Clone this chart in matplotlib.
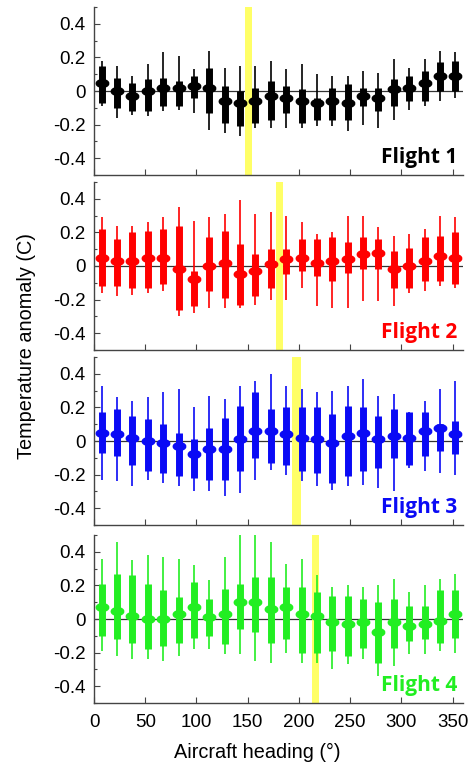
import numpy as np
import matplotlib.pyplot as plt
from matplotlib.ticker import MultipleLocator

plt.rcParams['font.family'] = ['Liberation Sans', 'DejaVu Sans']

# heading bins (15 degree bins)
heading = np.arange(7.5, 360, 15)

# per flight: whisker low, box low, median, box high, whisker high
f1_wl = [-0.09, -0.16, -0.14, -0.15, -0.12, -0.11, -0.13, -0.23, -0.25, -0.27, -0.22, -0.22,
         -0.22, -0.22, -0.21, -0.21, -0.24, -0.20, -0.22, -0.17, -0.11, -0.09, -0.06, -0.04]
f1_q1 = [-0.07, -0.10, -0.12, -0.12, -0.09, -0.09, -0.04, -0.13, -0.19, -0.21, -0.19, -0.17,
         -0.13, -0.19, -0.17, -0.17, -0.17, -0.09, -0.12, -0.09, -0.06, -0.06, 0.00, 0.00]
f1_md = [0.05, 0.00, -0.03, 0.00, 0.02, 0.02, 0.03, 0.02, -0.06, -0.07, -0.06, -0.03,
         -0.04, -0.06, -0.07, -0.06, -0.07, -0.03, -0.04, 0.01, 0.02, 0.05, 0.09, 0.09]
f1_q3 = [0.15, 0.08, 0.05, 0.07, 0.08, 0.06, 0.09, 0.14, 0.03, 0.00, 0.02, 0.06,
         0.03, 0.01, -0.04, 0.02, 0.04, 0.02, 0.02, 0.07, 0.09, 0.12, 0.17, 0.18]
f1_wh = [0.18, 0.15, 0.09, 0.16, 0.23, 0.21, 0.13, 0.24, 0.14, 0.15, 0.15, 0.18,
         0.13, 0.16, 0.10, 0.09, 0.09, 0.12, 0.11, 0.19, 0.14, 0.19, 0.24, 0.23]

f2_wl = [-0.16, -0.18, -0.17, -0.16, -0.15, -0.30, -0.28, -0.25, -0.25, -0.25, -0.23, -0.20,
         -0.20, -0.13, -0.24, -0.25, -0.25, -0.21, -0.21, -0.24, -0.16, -0.15, -0.12, -0.13]
f2_q1 = [-0.12, -0.12, -0.13, -0.13, -0.11, -0.26, -0.24, -0.15, -0.19, -0.23, -0.18, -0.13,
         -0.05, -0.03, -0.06, -0.09, -0.04, -0.02, -0.02, -0.13, -0.13, -0.09, -0.09, -0.11]
f2_md = [0.05, 0.03, 0.03, 0.05, 0.05, -0.02, -0.08, 0.00, 0.02, -0.05, -0.03, 0.01,
         0.04, 0.05, 0.02, 0.03, 0.04, 0.07, 0.08, -0.02, 0.00, 0.03, 0.06, 0.05]
f2_q3 = [0.22, 0.16, 0.20, 0.21, 0.22, 0.24, -0.03, 0.17, 0.21, 0.13, 0.07, 0.10,
         0.10, 0.16, 0.16, 0.17, 0.14, 0.17, 0.16, 0.09, 0.11, 0.17, 0.18, 0.20]
f2_wh = [0.29, 0.24, 0.24, 0.26, 0.29, 0.35, 0.27, 0.29, 0.31, 0.39, 0.31, 0.32,
         0.30, 0.26, 0.19, 0.20, 0.30, 0.30, 0.23, 0.18, 0.19, 0.22, 0.30, 0.29]

f3_wl = [-0.23, -0.24, -0.27, -0.23, -0.25, -0.27, -0.30, -0.30, -0.33, -0.31, -0.23, -0.17,
         -0.20, -0.24, -0.27, -0.29, -0.27, -0.26, -0.28, -0.30, -0.16, -0.18, -0.19, -0.20]
f3_q1 = [-0.07, -0.09, -0.14, -0.18, -0.19, -0.21, -0.22, -0.23, -0.23, -0.18, -0.10, -0.13,
         -0.14, -0.18, -0.19, -0.25, -0.21, -0.18, -0.16, -0.10, -0.14, -0.09, -0.06, -0.08]
f3_md = [0.05, 0.04, 0.02, 0.00, -0.01, -0.03, -0.08, -0.05, -0.05, 0.01, 0.06, 0.06,
         0.04, 0.02, 0.01, -0.01, 0.03, 0.05, 0.01, 0.03, 0.02, 0.06, 0.08, 0.04]
f3_q3 = [0.17, 0.19, 0.15, 0.13, 0.10, 0.05, 0.01, 0.08, 0.14, 0.21, 0.29, 0.19,
         0.20, 0.20, 0.20, 0.16, 0.21, 0.20, 0.15, 0.19, 0.17, 0.17, 0.10, 0.12]
f3_wh = [0.33, 0.26, 0.24, 0.26, 0.29, 0.31, 0.20, 0.27, 0.25, 0.33, 0.36, 0.40,
         0.33, 0.31, 0.29, 0.30, 0.33, 0.37, 0.27, 0.28, 0.17, 0.24, 0.31, 0.36]

f4_wl = [-0.19, -0.22, -0.24, -0.24, -0.25, -0.22, -0.18, -0.18, -0.21, -0.21, -0.25, -0.26,
         -0.20, -0.26, -0.26, -0.30, -0.27, -0.24, -0.34, -0.28, -0.21, -0.21, -0.19, -0.20]
f4_q1 = [-0.10, -0.12, -0.14, -0.18, -0.16, -0.14, -0.11, -0.10, -0.15, -0.06, -0.08, -0.14,
         -0.12, -0.20, -0.20, -0.19, -0.22, -0.17, -0.26, -0.17, -0.13, -0.12, -0.14, -0.11]
f4_md = [0.07, 0.05, 0.02, 0.00, 0.00, 0.03, 0.07, 0.01, 0.03, 0.10, 0.10, 0.06,
         0.07, 0.03, 0.02, -0.02, -0.03, -0.02, -0.08, -0.02, -0.04, -0.03, -0.01, 0.03]
f4_q3 = [0.21, 0.27, 0.26, 0.21, 0.17, 0.13, 0.22, 0.12, 0.18, 0.21, 0.25, 0.25,
         0.19, 0.19, 0.16, 0.14, 0.14, 0.12, 0.10, 0.12, 0.08, 0.08, 0.17, 0.17]
f4_wh = [0.36, 0.46, 0.35, 0.38, 0.37, 0.36, 0.32, 0.23, 0.37, 0.50, 0.50, 0.46,
         0.33, 0.36, 0.26, 0.19, 0.20, 0.19, 0.20, 0.24, 0.16, 0.20, 0.24, 0.27]

flights = ['Flight 1', 'Flight 2', 'Flight 3', 'Flight 4']
colors = ['black', '#ff0000', '#0a0af5', '#22ee22']
band = [151, 181, 197.5, 216]   # heading of the yellow marker
band_w = [7, 6, 9, 7.5]

data = [
    (f1_wl, f1_q1, f1_md, f1_q3, f1_wh),
    (f2_wl, f2_q1, f2_md, f2_q3, f2_wh),
    (f3_wl, f3_q1, f3_md, f3_q3, f3_wh),
    (f4_wl, f4_q1, f4_md, f4_q3, f4_wh),
]

# flattened median marker
t = np.linspace(0, 2 * np.pi, 25)
dot = list(zip(np.cos(t), 0.62 * np.sin(t)))

fig = plt.figure(figsize=(4.7, 7.65), dpi=100)
bottoms = [0.7712, 0.5425, 0.3137, 0.0810]
for i in range(4):
    ax = fig.add_axes([0.2, bottoms[i], 0.785, 0.2196])
    wl, q1, md, q3, wh = data[i]
    c = colors[i]
    ax.axhline(0, color='#333333', lw=0.9, zorder=1)
    ax.axvspan(band[i] - band_w[i] / 2, band[i] + band_w[i] / 2, color='#ffff66', zorder=2, lw=0)
    ax.vlines(heading, wl, wh, color=c, lw=1.2, zorder=3)
    ax.vlines(heading, q1, q3, color=c, lw=5.0, zorder=4)
    ax.plot(heading, md, marker=dot, ls='none', color=c, ms=9, zorder=5)
    ax.text(0.984, 0.07, flights[i], transform=ax.transAxes, ha='right', va='baseline',
            fontsize=15, fontweight='bold', color=c, family='Open Sans')

    ax.set_xlim(0, 360)
    ax.set_ylim(-0.5, 0.5)
    ax.set_yticks([-0.4, -0.2, 0, 0.2, 0.4])
    ax.set_yticklabels(['-0.4', '-0.2', '0', '0.2', '0.4'])
    ax.yaxis.set_minor_locator(MultipleLocator(0.1))
    ax.set_xticks(np.arange(0, 351, 50))
    ax.tick_params(direction='in', length=4, width=0.8, color='#444444', labelsize=13.5)
    ax.tick_params(axis='y', pad=6)
    ax.tick_params(axis='x', pad=8)
    ax.tick_params(which='minor', direction='in', length=2.5, width=0.8, color='#444444')
    for s in ['top', 'right']:
        ax.spines[s].set_visible(False)
    for s in ['left', 'bottom']:
        ax.spines[s].set_color('#444444')
        ax.spines[s].set_linewidth(1.0)
    if i < 3:
        ax.set_xticklabels([])

fig.text(27 / 470, 1 - 346 / 765, 'Temperature anomaly (C)', rotation=90,
         ha='center', va='center', fontsize=14.3)
fig.text(257 / 470, 1 - 752 / 765, 'Aircraft heading (°)', ha='center', va='center',
         fontsize=14.3)

fig.savefig('out.png', dpi=100)
